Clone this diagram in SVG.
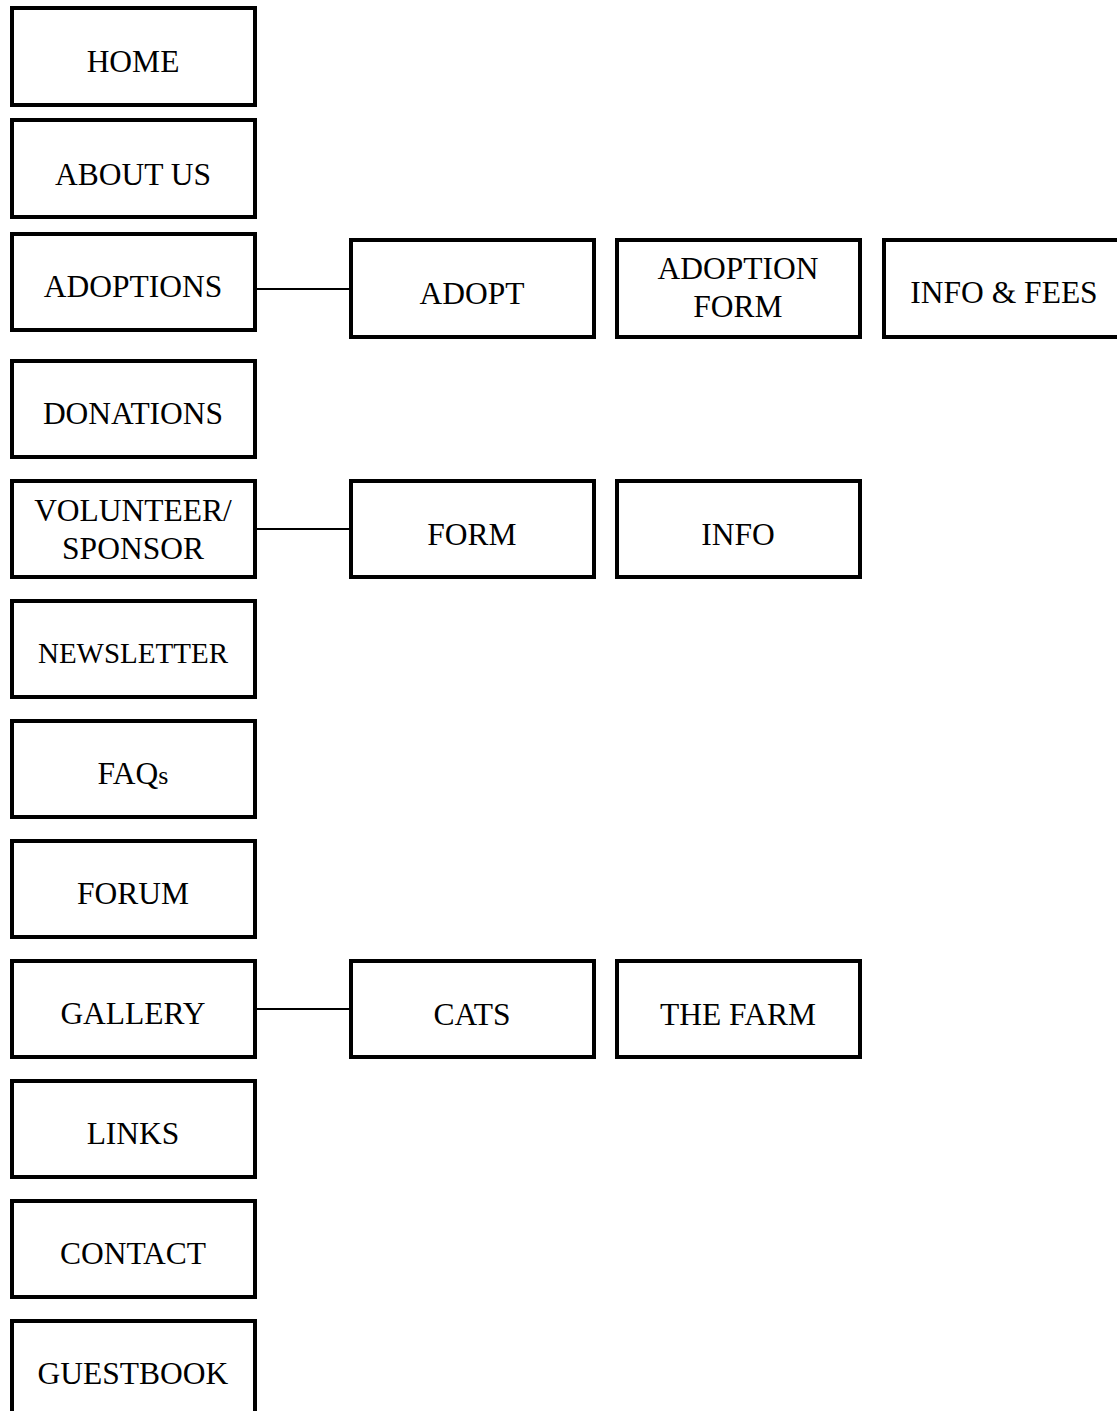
<svg xmlns="http://www.w3.org/2000/svg" width="1117" height="1411" viewBox="0 0 1117 1411">
<style>
.box{fill:#fff;stroke:#000;stroke-width:4}
.t{font-family:"Liberation Serif","Times New Roman",serif;font-size:31.5px;fill:#000;text-anchor:middle}
.s{font-size:29px}
.c{stroke:#000;stroke-width:2;fill:none}
</style>
<rect width="1117" height="1411" fill="#fff"/>
<g id="connectors">
<line class="c" x1="257" y1="289" x2="349" y2="289"/>
<line class="c" x1="257" y1="529" x2="349" y2="529"/>
<line class="c" x1="257" y1="1009" x2="349" y2="1009"/>
</g>
<g id="home"><rect class="box" x="12" y="8" width="243" height="97"/><text class="t" x="133" y="72">HOME</text></g>
<g id="about"><rect class="box" x="12" y="120" width="243" height="97"/><text class="t" x="133" y="185">ABOUT US</text></g>
<g id="adoptions"><rect class="box" x="12" y="234" width="243" height="96"/><text class="t" x="133" y="297">ADOPTIONS</text></g>
<g id="donations"><rect class="box" x="12" y="361" width="243" height="96"/><text class="t" x="133" y="424">DONATIONS</text></g>
<g id="volunteer"><rect class="box" x="12" y="481" width="243" height="96"/><text class="t" x="133" y="521">VOLUNTEER/</text><text class="t" x="133" y="559">SPONSOR</text></g>
<g id="newsletter"><rect class="box" x="12" y="601" width="243" height="96"/><text class="t s" x="133" y="663">NEWSLETTER</text></g>
<g id="faqs"><rect class="box" x="12" y="721" width="243" height="96"/><text class="t" x="133" y="784">FAQ<tspan font-size="26">s</tspan></text></g>
<g id="forum"><rect class="box" x="12" y="841" width="243" height="96"/><text class="t" x="133" y="904">FORUM</text></g>
<g id="gallery"><rect class="box" x="12" y="961" width="243" height="96"/><text class="t" x="133" y="1024">GALLERY</text></g>
<g id="links"><rect class="box" x="12" y="1081" width="243" height="96"/><text class="t" x="133" y="1144">LINKS</text></g>
<g id="contact"><rect class="box" x="12" y="1201" width="243" height="96"/><text class="t" x="133" y="1264">CONTACT</text></g>
<g id="guestbook"><rect class="box" x="12" y="1321" width="243" height="96"/><text class="t" x="133" y="1384">GUESTBOOK</text></g>
<g id="adopt"><rect class="box" x="351" y="240" width="243" height="97"/><text class="t" x="472" y="304">ADOPT</text></g>
<g id="adoptionform"><rect class="box" x="617" y="240" width="243" height="97"/><text class="t" x="738" y="279">ADOPTION</text><text class="t" x="738" y="317">FORM</text></g>
<g id="infofees"><rect class="box" x="884" y="240" width="243" height="97"/><text class="t" x="1004" y="303">INFO &amp; FEES</text></g>
<g id="form"><rect class="box" x="351" y="481" width="243" height="96"/><text class="t" x="472" y="545">FORM</text></g>
<g id="info"><rect class="box" x="617" y="481" width="243" height="96"/><text class="t" x="738" y="545">INFO</text></g>
<g id="cats"><rect class="box" x="351" y="961" width="243" height="96"/><text class="t" x="472" y="1025">CATS</text></g>
<g id="thefarm"><rect class="box" x="617" y="961" width="243" height="96"/><text class="t" x="738" y="1025">THE FARM</text></g>
</svg>
